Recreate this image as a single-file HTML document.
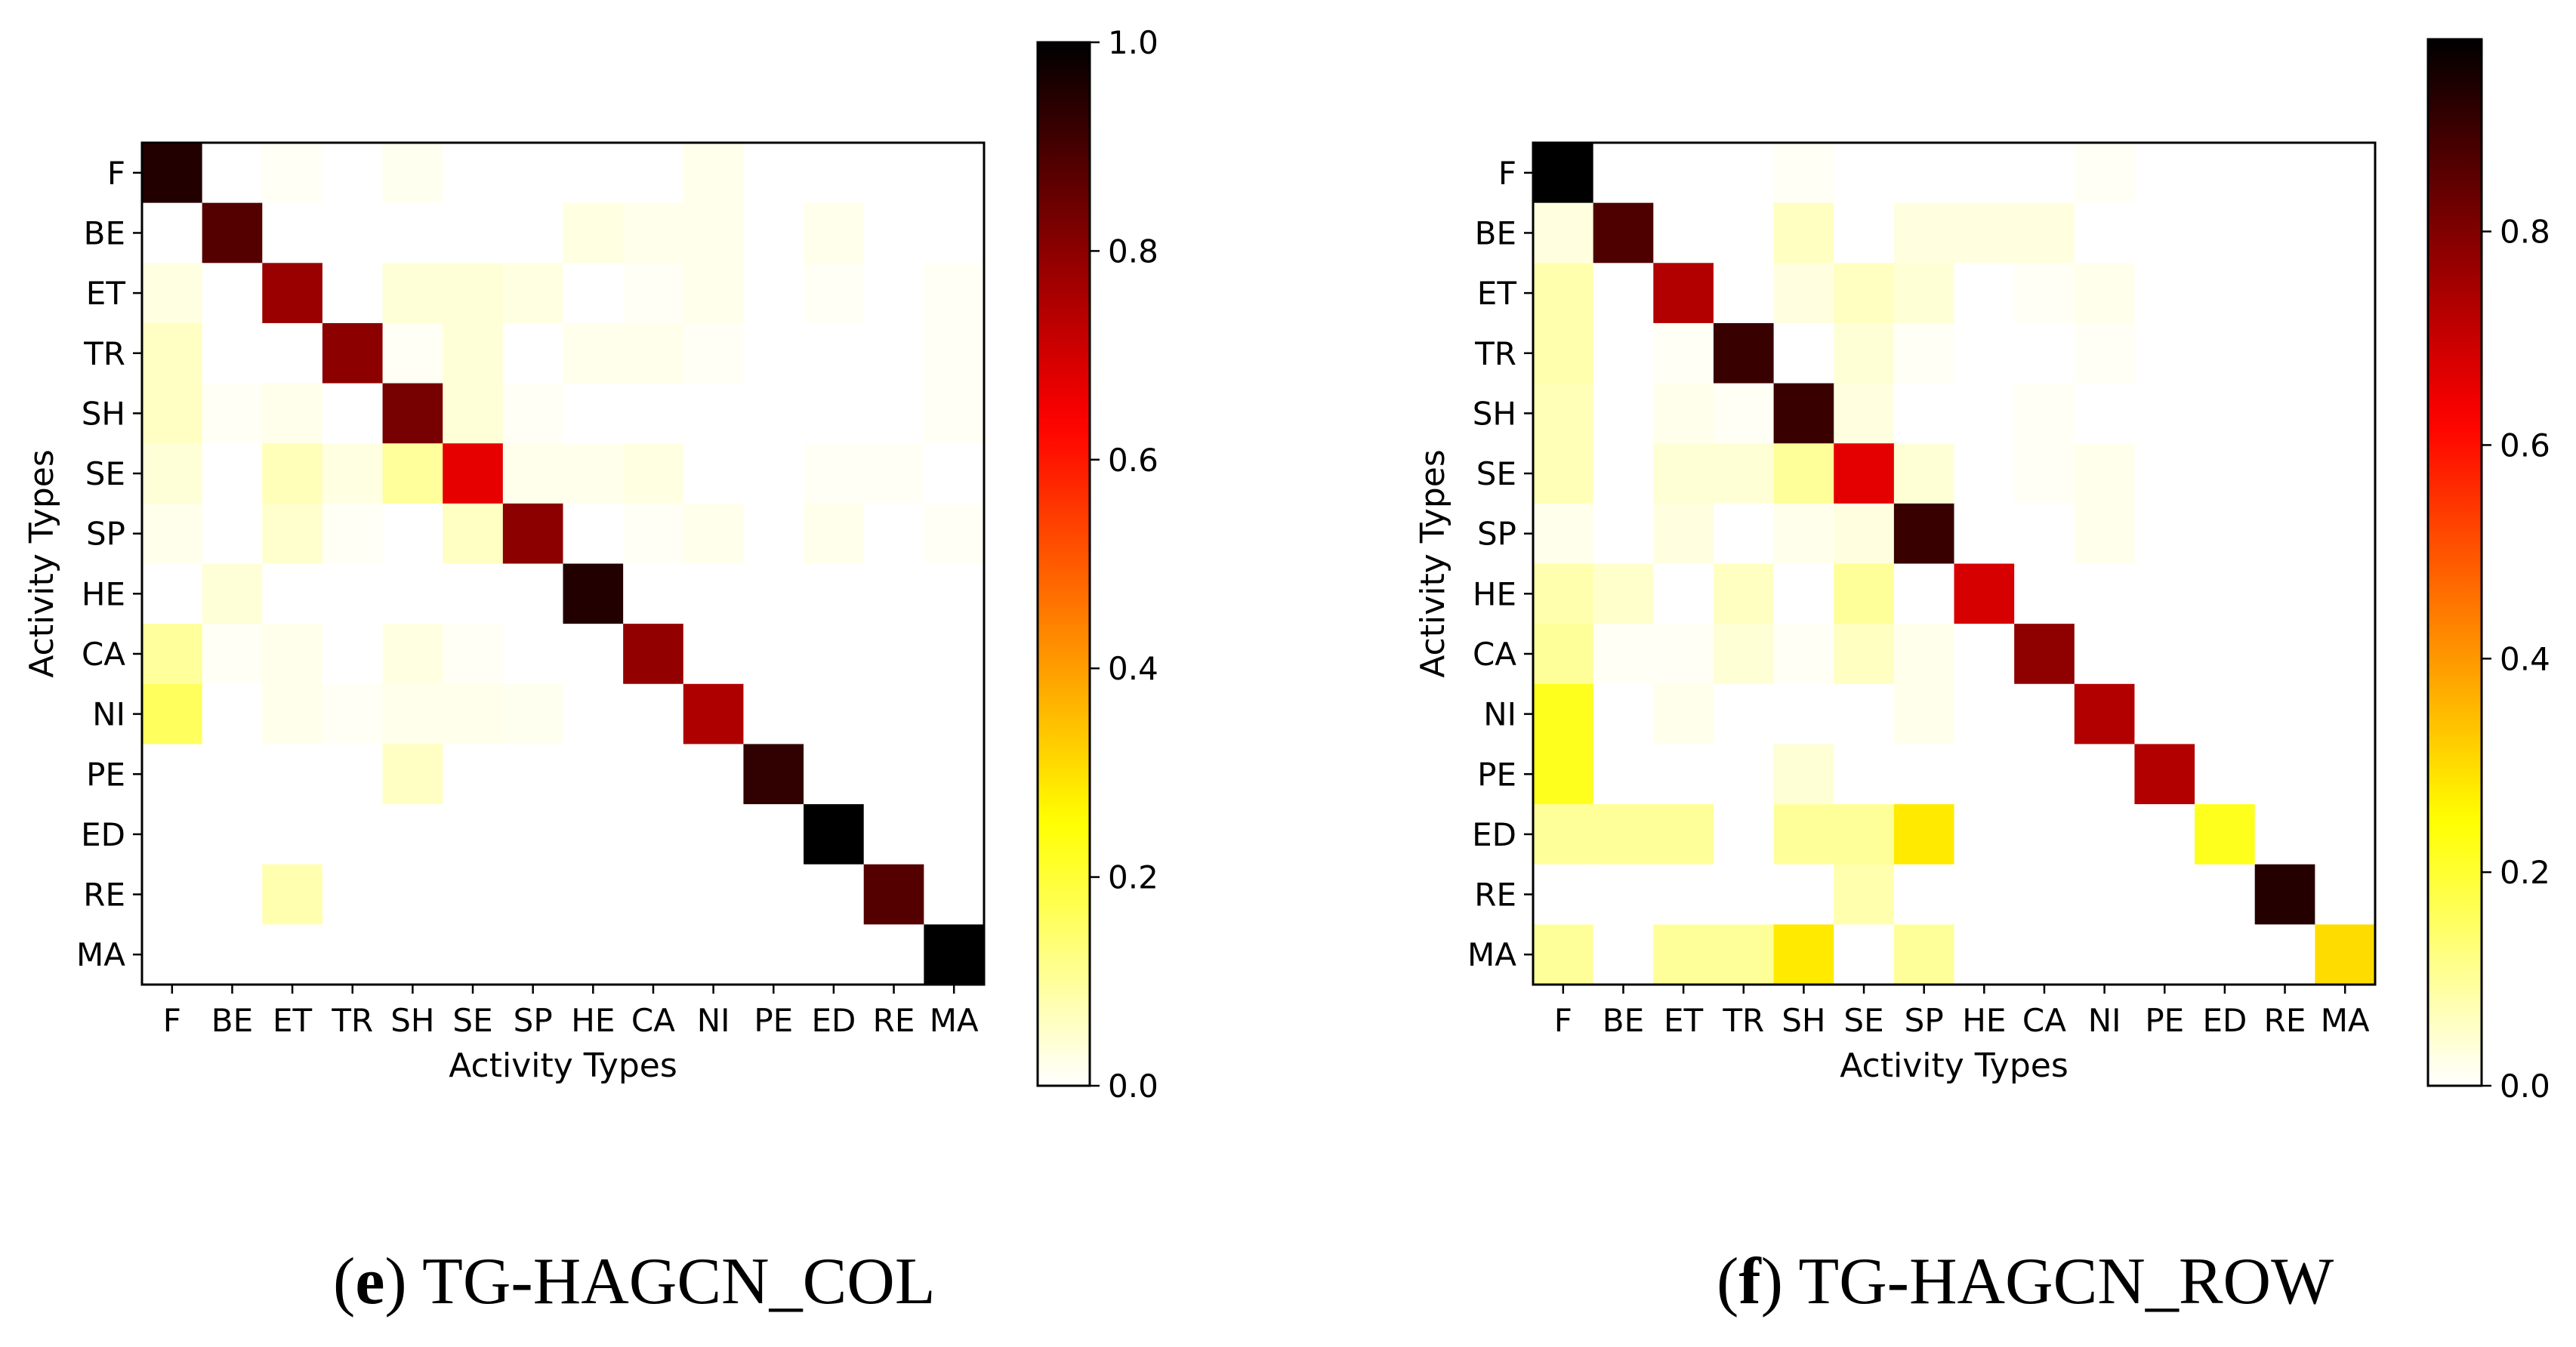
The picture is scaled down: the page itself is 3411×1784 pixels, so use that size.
<!DOCTYPE html>
<html><head><meta charset="utf-8"><style>
html,body{margin:0;padding:0;background:#fff;}
svg{display:block;}
text{font-family:"DejaVu Sans","Liberation Sans",sans-serif;fill:#000;}
.cap{font-family:"Liberation Serif",serif;font-size:88px;}
</style></head><body>
<svg id="fig" width="3411" height="1784" viewBox="0 0 3411 1784" xmlns="http://www.w3.org/2000/svg">
<defs id="defs"></defs>
<text class="cap" x="441" y="1726">(<tspan font-weight="bold">e</tspan>) TG-HAGCN_COL</text>
<text class="cap" x="2273" y="1726">(<tspan font-weight="bold">f</tspan>) TG-HAGCN_ROW</text>
</svg>
<script>
const categories = ["F","BE","ET","TR","SH","SE","SP","HE","CA","NI","PE","ED","RE","MA"];
const valuesCol = [
[0.95,0,0.01,0,0.015,0,0,0,0,0.02,0,0,0,0],
[0,0.88,0,0,0,0,0,0.03,0.02,0.02,0,0.02,0,0],
[0.03,0,0.78,0,0.04,0.04,0.03,0,0.01,0.02,0,0.01,0,0.01],
[0.06,0,0,0.8,0.01,0.04,0,0.02,0.02,0.01,0,0,0,0.01],
[0.06,0.01,0.02,0,0.83,0.04,0.01,0,0,0,0,0,0,0.01],
[0.04,0,0.07,0.03,0.1,0.67,0.02,0.02,0.03,0,0,0.01,0.01,0],
[0.02,0,0.05,0.01,0,0.06,0.8,0,0.01,0.02,0,0.02,0,0.01],
[0,0.04,0,0,0,0,0,0.95,0,0,0,0,0,0],
[0.1,0.01,0.02,0,0.03,0.01,0,0,0.79,0,0,0,0,0],
[0.16,0,0.02,0.01,0.02,0.02,0.015,0,0,0.75,0,0,0,0],
[0,0,0,0,0.06,0,0,0,0,0,0.93,0,0,0],
[0,0,0,0,0,0,0,0,0,0,0,1.0,0,0],
[0,0,0.08,0,0,0,0,0,0,0,0,0,0.88,0],
[0,0,0,0,0,0,0,0,0,0,0,0,0,1.0]];
const valuesRow = [
[0.98,0,0,0,0.01,0,0,0,0,0.01,0,0,0,0],
[0.03,0.87,0,0,0.06,0,0.03,0.03,0.03,0,0,0,0,0],
[0.08,0,0.73,0,0.03,0.06,0.04,0,0.01,0.02,0,0,0,0],
[0.08,0,0.01,0.9,0,0.04,0.01,0,0,0.01,0,0,0,0],
[0.07,0,0.02,0.01,0.9,0.03,0,0,0.01,0,0,0,0,0],
[0.07,0,0.04,0.04,0.1,0.66,0.04,0,0.01,0.02,0,0,0,0],
[0.02,0,0.03,0,0.02,0.03,0.9,0,0,0.02,0,0,0,0],
[0.08,0.05,0,0.06,0,0.1,0,0.68,0,0,0,0,0,0],
[0.1,0.01,0.01,0.04,0.01,0.06,0.02,0,0.78,0,0,0,0,0],
[0.22,0,0.02,0,0,0,0.02,0,0,0.73,0,0,0,0],
[0.22,0,0,0,0.04,0,0,0,0,0,0.73,0,0,0],
[0.1,0.1,0.1,0,0.1,0.1,0.28,0,0,0,0,0.22,0,0],
[0,0,0,0,0,0.08,0,0,0,0,0,0,0.93,0],
[0.1,0,0.1,0.1,0.28,0,0.1,0,0,0,0,0,0,0.3]];
const ticksCol = [0.0,0.2,0.4,0.6,0.8,1.0];
const ticksRow = [0.0,0.2,0.4,0.6,0.8];
const vmaxCol = 1.0;
const vmaxRow = 0.98;

const NS = "http://www.w3.org/2000/svg";
const svg = document.getElementById('fig');
function hotR(v){
  const t = 1 - Math.max(0, Math.min(1, v));
  const r = Math.min(1, t/0.365);
  const g = Math.max(0, Math.min(1, (t-0.365)/0.381));
  const b = Math.max(0, Math.min(1, (t-0.746)/0.254));
  return `rgb(${Math.round(r*255)},${Math.round(g*255)},${Math.round(b*255)})`;
}
function mk(tag, attrs, parent){
  const e = document.createElementNS(NS, tag);
  for (const k in attrs) e.setAttribute(k, attrs[k]);
  (parent||svg).appendChild(e);
  return e;
}
function drawPanel(cfg){
  const {x0,y0,size,vals,vmax,cbx,cbw,cbTop,cbBot,ticks,id} = cfg;
  const n = categories.length, cs = size/n;
  const g = mk('g', {});
  
  
  vals.forEach((row,i)=>row.forEach((v,j)=>{
    const r = mk('rect', {x:x0+j*cs, y:y0+i*cs, width:cs+0.6, height:cs+0.6, fill:hotR(v/vmax)}, g);
    
    
  }));
  const fr = mk('rect', {x:x0, y:y0, width:size, height:size, fill:'none', stroke:'#000', 'stroke-width':3});
  
  
  categories.forEach((c,i)=>{
    const cy = y0+(i+0.5)*cs, cx = x0+(i+0.5)*cs;
    mk('line', {x1:x0-12, x2:x0, y1:cy, y2:cy, stroke:'#000','stroke-width':2.5});
    mk('line', {x1:cx, x2:cx, y1:y0+size, y2:y0+size+12, stroke:'#000','stroke-width':2.5});
    const yl = mk('text', {x:x0-22, y:cy+15, 'font-size':42, 'text-anchor':'end'});
    yl.textContent = c;
    
    
    const xl = mk('text', {x:cx, y:y0+size+62, 'font-size':42, 'text-anchor':'middle'});
    xl.textContent = c;
    
    
  });
  const xt = mk('text', {x:x0+size/2, y:y0+size+122, 'font-size':44, 'text-anchor':'middle'});
  xt.textContent = 'Activity Types';
  
  
  const yx = x0-118, yy = y0+size/2;
  const yt = mk('text', {x:yx, y:yy, 'font-size':44, 'text-anchor':'middle', transform:`rotate(-90 ${yx} ${yy})`});
  yt.textContent = 'Activity Types';
  
  
  // colorbar
  const defs = document.getElementById('defs');
  const lg = mk('linearGradient', {id:id+'-grad', x1:0, y1:1, x2:0, y2:0}, defs);
  for (let k=0;k<=40;k++){ const f=k/40; mk('stop', {offset:f, 'stop-color':hotR(f)}, lg); }
  const cb = mk('rect', {x:cbx, y:cbTop, width:cbw, height:cbBot-cbTop, fill:`url(#${id}-grad)`, stroke:'#000','stroke-width':3});
  
  
  const per = (cbBot-cbTop)/vmax;
  ticks.forEach(t=>{
    const ty = cbBot - t*per;
    mk('line', {x1:cbx+cbw, x2:cbx+cbw+13, y1:ty, y2:ty, stroke:'#000','stroke-width':2.5});
    const tl = mk('text', {x:cbx+cbw+24, y:ty+15, 'font-size':42});
    tl.textContent = t.toFixed(1);
    
    
  });
}
drawPanel({id:'col', x0:188, y0:189, size:1115, vals:valuesCol, vmax:vmaxCol, cbx:1374, cbw:69, cbTop:56, cbBot:1438, ticks:ticksCol});
drawPanel({id:'row', x0:2030, y0:189, size:1115, vals:valuesRow, vmax:vmaxRow, cbx:3215, cbw:71, cbTop:52, cbBot:1438, ticks:ticksRow});
</script>
</body></html>
